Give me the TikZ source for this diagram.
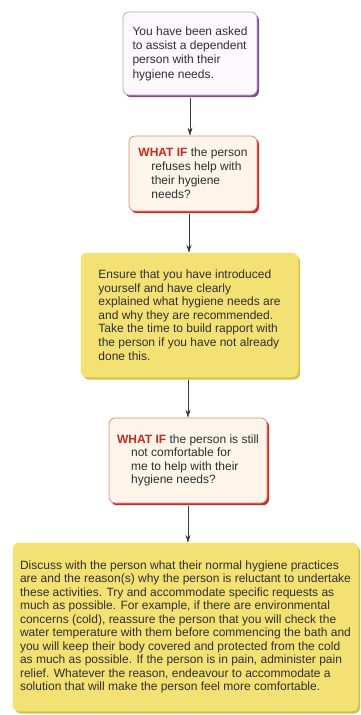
\documentclass[tikz,border=0pt]{standalone}
\usepackage{fontspec}
\setmainfont{Liberation Sans}
\usetikzlibrary{arrows.meta,shadows}
\definecolor{txt}{HTML}{2F2F2F}
\definecolor{pfill}{HTML}{FCF8FB}
\definecolor{pline}{HTML}{B8A4BF}
\definecolor{pshadow}{HTML}{7B4E8E}
\definecolor{rfill}{HTML}{FDF5EA}
\definecolor{rline}{HTML}{D9897A}
\definecolor{rshadow}{HTML}{C92A24}
\definecolor{yfill}{HTML}{F3E273}
\definecolor{yshadow}{HTML}{D6C04A}
\definecolor{whatif}{HTML}{C8281F}
\definecolor{arrowc}{HTML}{3A3A3A}
\begin{document}
\begin{tikzpicture}[x=1pt,y=1pt,
  box/.style={rounded corners=6pt, align=left, inner sep=0pt, text=txt,
    font=\fontsize{12}{14.4}\selectfont},
  purplebox/.style={box, fill=pfill, draw=pline, line width=0.7pt,
    drop shadow={shadow xshift=2pt, shadow yshift=-2.2pt, fill=pshadow, opacity=1}},
  redbox/.style={box, fill=rfill, draw=rline, line width=0.7pt,
    drop shadow={shadow xshift=2pt, shadow yshift=-2.2pt, fill=rshadow, opacity=1}},
  yellowbox/.style={box, fill=yfill, draw=yfill, line width=0.5pt,
    drop shadow={shadow xshift=2pt, shadow yshift=-2.5pt, fill=yshadow, opacity=1}},
  arr/.style={draw=arrowc, line width=0.7pt, -{Stealth[length=8pt,width=5pt]}},
  wi/.style={}]
\useasboundingbox (0,0) rectangle (361,-715);
\fill[white] (0,0) rectangle (361,-715);

\node[purplebox, minimum width=134pt, minimum height=83pt] (b1) at (190,-53.5)
  {You have been asked\\to assist a dependent\\person with their\\hygiene needs.};

\node[redbox, minimum width=128pt, minimum height=75pt,
  font=\fontsize{12}{14}\selectfont] (b2) at (193,-173.5)
  {\textcolor{whatif}{\textbf{WHAT IF}} the person\\
   \hspace*{13pt}refuses help with\\
   \hspace*{13pt}their hygiene\\
   \hspace*{13pt}needs?};

\node[yellowbox, minimum width=217pt, minimum height=124pt,
  font=\fontsize{12}{13.6}\selectfont] (b3) at (189.5,-315)
  {Ensure that you have introduced\\
   yourself and have clearly\\
   explained what hygiene needs are\\
   and why they are recommended.\\
   Take the time to build rapport with\\
   the person if you have not already\\
   done this.};

\node[redbox, minimum width=158pt, minimum height=85pt,
  font=\fontsize{12}{13.4}\selectfont] (b4) at (188,-460.5)
  {\textcolor{whatif}{\textbf{WHAT IF}} the person is still\\
   \hspace*{14pt}not comfortable for\\
   \hspace*{14pt}me to help with their\\
   \hspace*{14pt}hygiene needs?};

\node[yellowbox, minimum width=345pt, minimum height=168pt,
  font=\fontsize{12}{13.5}\selectfont] (b5) at (185.5,-627)
  {Discuss with the person what their normal hygiene practices\\
   are and the reason(s) why the person is reluctant to undertake\\
   these activities. Try and accommodate specific requests as\\
   much as possible. For example, if there are environmental\\
   concerns (cold), reassure the person that you will check the\\
   water temperature with them before commencing the bath and\\
   you will keep their body covered and protected from the cold\\
   as much as possible. If the person is in pain, administer pain\\
   relief. Whatever the reason, endeavour to accommodate a\\
   solution that will make the person feel more comfortable.};

\draw[arr] (b1.south) ++(0,-2.2pt) coordinate (s1) -- (s1 |- b2.north);
\draw[arr] ([xshift=-4pt]b2.south) ++(0,-2.2pt) coordinate (s2) -- (s2 |- b3.north);
\draw[arr] ([xshift=-1.5pt]b3.south) ++(0,-2.5pt) coordinate (s3) -- (s3 |- b4.north);
\draw[arr] (b4.south) ++(0,-2.2pt) coordinate (s4) -- (s4 |- b5.north);
\end{tikzpicture}
\end{document}
